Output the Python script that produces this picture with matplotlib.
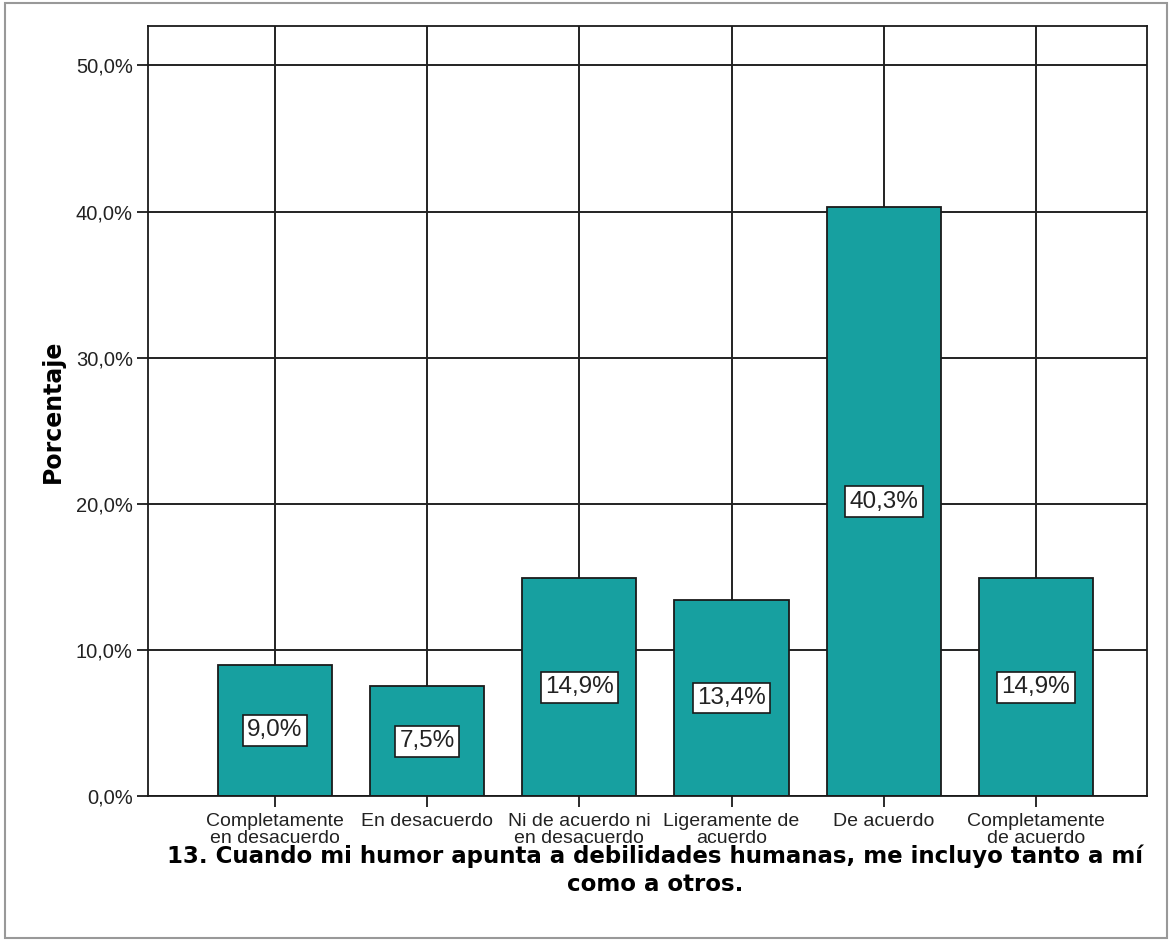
import matplotlib.pyplot as plt
from matplotlib.patches import Rectangle
from matplotlib.ticker import FuncFormatter

categories = ["Completamente\nen desacuerdo", "En desacuerdo", "Ni de acuerdo ni\nen desacuerdo",
              "Ligeramente de\nacuerdo", "De acuerdo", "Completamente\nde acuerdo"]
percent = [9.0, 7.5, 14.9, 13.4, 40.3, 14.9]
yticks = [0, 10, 20, 30, 40, 50]
title = "13. Cuando mi humor apunta a debilidades humanas, me incluyo tanto a mí\ncomo a otros."

W, H = 1173, 941
fig = plt.figure(figsize=(W / 100, H / 100), dpi=100)
ax = fig.add_axes([148 / W, 1 - 796 / H, (1147 - 148) / W, (796 - 26) / H])

x = list(range(len(categories)))
ax.set_axisbelow(True)
ax.grid(True, color="#222222", linewidth=1.4)
bars = ax.bar(x, percent, width=0.75, color="#17A0A0", edgecolor="#1a1a1a", linewidth=1.3, zorder=2)

for xi, v in zip(x, percent):
    ax.text(xi, v / 2, f"{v:.1f}%".replace(".", ","), ha="center", va="center",
            fontsize=17.5, family="Liberation Sans", color="#222222", zorder=3,
            bbox=dict(boxstyle="square,pad=0.18", facecolor="white", edgecolor="#1a1a1a", linewidth=1.2))

ax.set_xlim(-0.834, 5.73)
ax.set_ylim(0, 52.7)
ax.set_yticks(yticks)
ax.yaxis.set_major_formatter(FuncFormatter(lambda v, p: f"{v:.1f}%".replace(".", ",")))
ax.set_xticks(x)
ax.set_xticklabels(categories, fontsize=14, family="Liberation Sans", linespacing=1.02)
for lab in ax.get_yticklabels():
    lab.set_family("Liberation Sans")
    lab.set_fontsize(14.5)
ax.tick_params(length=8, width=1.3, color="#1a1a1a", labelcolor="#222222", pad=3)
ax.tick_params(axis="x", pad=4)
for s in ax.spines.values():
    s.set_color("#1a1a1a")
    s.set_linewidth(1.3)

ax.set_ylabel("Porcentaje", fontsize=17, fontweight="bold", labelpad=8)
fig.text(655 / W, 1 - 845 / H, title, ha="center", va="top", fontsize=16.5,
         fontweight="bold", linespacing=1.25)

fig.add_artist(Rectangle((5 / W, 3 / H), 1 - 11 / W, 1 - 6 / H, transform=fig.transFigure,
                         fill=False, edgecolor="#999999", linewidth=1.5))

fig.savefig("out.png", dpi=100)
